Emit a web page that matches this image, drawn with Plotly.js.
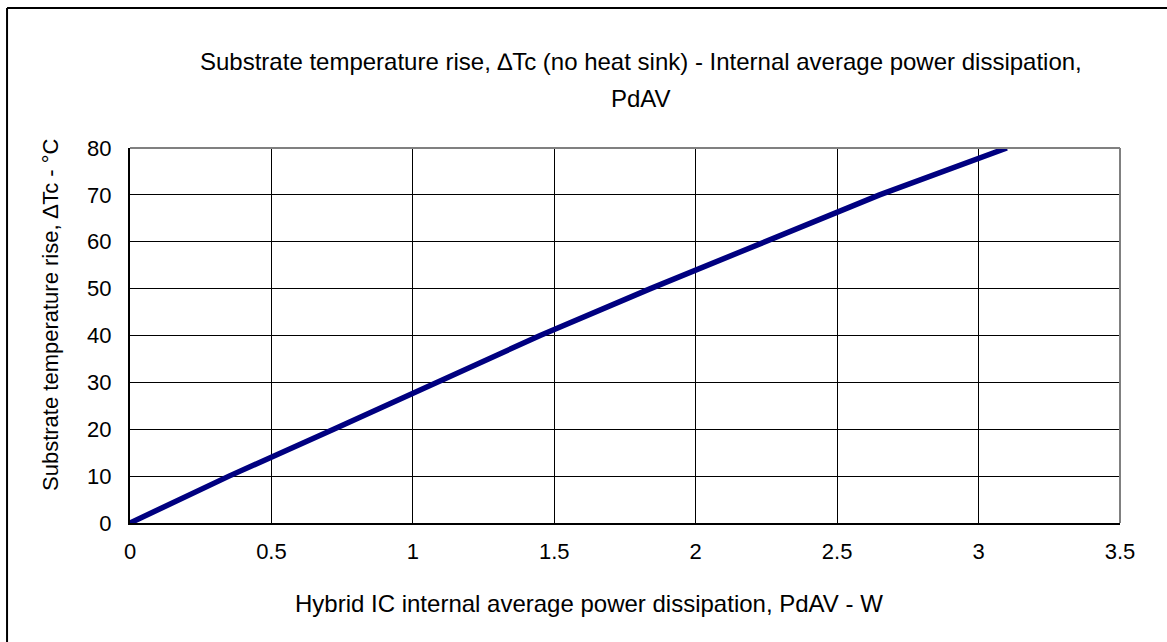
<!DOCTYPE html>
<html>
<head>
<meta charset="utf-8">
<script src="https://cdn.plot.ly/plotly-3.0.1.min.js"></script>
<style>
html,body{margin:0;padding:0;background:#fff;}
#chart{width:1167px;height:642px;}
</style>
</head>
<body>
<div id="chart"></div>
<script>
// Data
var powerW = [0, 0.35, 0.72, 1.08, 1.45, 1.84, 2.24, 2.65, 3.1];
var deltaTc = [0, 10, 20, 30, 40, 50, 60, 70, 80];
var xTicks = [0, 0.5, 1, 1.5, 2, 2.5, 3, 3.5];
var xTickLabels = ['0', '0.5', '1', '1.5', '2', '2.5', '3', '3.5'];
var yTicks = [0, 10, 20, 30, 40, 50, 60, 70, 80];

var titleLine1 = 'Substrate temperature rise, \u2206Tc (no heat sink) - Internal average power dissipation,';
var titleLine2 = 'PdAV';
var xTitle = 'Hybrid IC internal average power dissipation, PdAV - W';
var yTitle = 'Substrate temperature rise, \u2206Tc - \u00B0C';

var fam = 'Liberation Sans, Arial, sans-serif';
var tickFont = {family: fam, size: 22, color: '#000'};
var titleFont = {family: fam, size: 24, color: '#000'};
var axisFont = {family: fam, size: 22, color: '#000'};

var trace = {
  x: powerW, y: deltaTc, type: 'scatter', mode: 'lines',
  line: {color: '#000080', width: 5.5}, hoverinfo: 'skip'
};

var layout = {
  width: 1167, height: 642,
  margin: {l: 130, r: 47, t: 148, b: 119},
  paper_bgcolor: '#fff', plot_bgcolor: '#fff',
  showlegend: false,
  font: tickFont,
  xaxis: {
    range: [0, 3.5], tickvals: xTicks, ticktext: xTickLabels,
    showgrid: true, gridcolor: '#000', gridwidth: 1,
    showline: true, linecolor: '#000', linewidth: 2,
    zeroline: false, ticks: '', ticklabelstandoff: 8,
    tickfont: tickFont
  },
  yaxis: {
    range: [0, 80], tickvals: yTicks,
    showgrid: true, gridcolor: '#000', gridwidth: 1,
    showline: true, linecolor: '#000', linewidth: 2,
    zeroline: false, ticks: '', ticklabelstandoff: 12,
    tickfont: tickFont
  },
  shapes: [
    {type: 'line', xref: 'paper', yref: 'paper', x0: 0, x1: 1, y0: 1, y1: 1, line: {color: '#808080', width: 2}, layer: 'above'},
    {type: 'line', xref: 'paper', yref: 'paper', x0: 1, x1: 1, y0: 0, y1: 1, line: {color: '#808080', width: 2}, layer: 'above'},
    {type: 'line', xref: 'paper', yref: 'paper', x0: -0.1242, x1: 1.08, y0: 1.3733, y1: 1.3733, line: {color: '#000', width: 2}},
    {type: 'line', xref: 'paper', yref: 'paper', x0: -0.1242, x1: -0.1242, y0: -0.35, y1: 1.3733, line: {color: '#000', width: 2}}
  ],
  annotations: [
    {text: titleLine1, xref: 'paper', yref: 'paper', x: 0.516, y: (523 - 62) / 375, xanchor: 'center', yanchor: 'middle', showarrow: false, font: titleFont},
    {text: titleLine2, xref: 'paper', yref: 'paper', x: 0.516, y: (523 - 99) / 375, xanchor: 'center', yanchor: 'middle', showarrow: false, font: titleFont},
    {text: xTitle, xref: 'paper', yref: 'paper', x: 0.4636, y: (523 - 603) / 375, xanchor: 'center', yanchor: 'middle', showarrow: false, font: titleFont},
    {text: yTitle, xref: 'paper', yref: 'paper', x: (50 - 130) / 990, y: (523 - 315) / 375, xanchor: 'center', yanchor: 'middle', showarrow: false, textangle: -90, font: axisFont}
  ]
};

Plotly.newPlot('chart', [trace], layout, {displayModeBar: false, staticPlot: true});
</script>
</body>
</html>
